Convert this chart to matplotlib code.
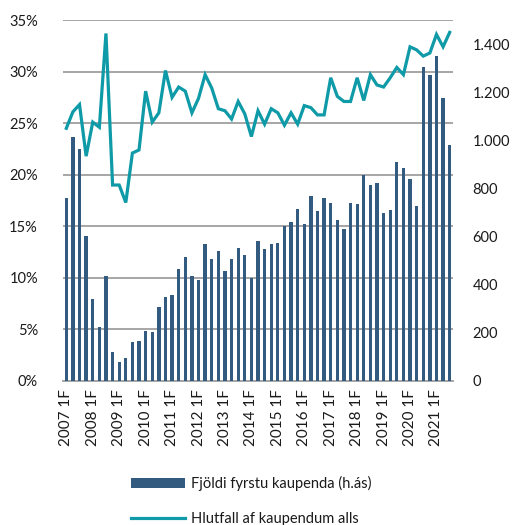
import matplotlib
matplotlib.use("Agg")
import matplotlib.pyplot as plt
from matplotlib.ticker import FuncFormatter, MultipleLocator
from matplotlib.patches import Patch
from matplotlib.lines import Line2D

plt.rcParams['font.family'] = ['Lato', 'DejaVu Sans']

years = list(range(2007, 2022))
quarters = [f"{y} {q}F" for y in years for q in range(1, 5)][:59]
tick_labels = [q if q.endswith(" 1F") else "" for q in quarters]

first_buyers = [759, 1012, 963, 604, 339, 226, 436, 119, 79, 96, 162, 166,
                208, 204, 306, 350, 357, 467, 517, 436, 418, 568, 507, 540,
                456, 507, 551, 522, 427, 583, 548, 568, 572, 645, 661, 713,
                651, 769, 706, 759, 741, 669, 632, 741, 734, 855, 814, 821,
                697, 711, 911, 884, 838, 727, 1303, 1271, 1352, 1174, 981]

share_pct = [24.5, 26.1, 26.8, 21.8, 25.1, 24.6, 33.7, 19.0, 19.0, 17.3, 22.1, 22.4,
             28.1, 25.1, 26.0, 30.1, 27.5, 28.5, 28.1, 26.0, 27.4, 29.7, 28.4, 26.4,
             26.2, 25.4, 27.1, 25.9, 23.7, 26.2, 24.9, 26.4, 26.0, 24.8, 26.0, 24.9,
             26.7, 26.5, 25.8, 25.8, 29.4, 27.6, 27.1, 27.1, 29.4, 27.2, 29.7, 28.7,
             28.5, 29.4, 30.4, 29.7, 32.4, 32.1, 31.5, 31.8, 33.6, 32.4, 33.8]

bar_label = "Fjöldi fyrstu kaupenda (h.ás)"
line_label = "Hlutfall af kaupendum alls"

bar_color = "#335b7f"
line_color = "#0e9aa7"
grid_color = "#a6a6a6"
fs = 10.5

W, H = 514, 525
fig = plt.figure(figsize=(W / 100, H / 100), dpi=100)
left, right, top, bottom = 63, 453, 20, 381
ax = fig.add_axes([left / W, 1 - bottom / H, (right - left) / W, (bottom - top) / H])

x = list(range(len(quarters)))

# left axis: percentages + grid
ax.set_ylim(0, 35)
ax.yaxis.set_major_locator(MultipleLocator(5))
ax.yaxis.set_major_formatter(FuncFormatter(lambda v, p: f"{int(round(v))}%"))
ax.grid(axis='y', color=grid_color, linewidth=1.4)
ax.set_axisbelow(True)
ax.set_xlim(-0.5, len(quarters) - 0.5)
ax.set_xticks(x)
ax.set_xticklabels(tick_labels, rotation=90, fontsize=fs + 0.5, color="#1a1a1a")
ax.tick_params(axis='y', length=0, labelsize=fs, colors="#1a1a1a", pad=18)
ax.tick_params(axis='x', length=0, colors="#1a1a1a", pad=6)
for s in ['top', 'left', 'right']:
    ax.spines[s].set_visible(False)
ax.spines['bottom'].set_color(grid_color)
ax.spines['bottom'].set_linewidth(1.4)

# right axis: bars
ax2 = ax.twinx()
ax2.bar(x, first_buyers, width=0.5, color=bar_color, zorder=2)
ax2.set_ylim(0, 1500)
ax2.set_yticks(range(0, 1401, 200))
ax2.yaxis.set_major_formatter(FuncFormatter(lambda v, p: f"{int(v):,}".replace(",", ".")))
ax2.tick_params(axis='y', length=0, labelsize=fs, colors="#1a1a1a", pad=14)
for s in ['top', 'left', 'right', 'bottom']:
    ax2.spines[s].set_visible(False)

# line on top, left scale
ax3 = ax.twinx()
ax3.plot(x, share_pct, color=line_color, linewidth=2.3, solid_joinstyle='miter')
ax3.set_ylim(0, 35)
ax3.set_yticks([])
for s in ['top', 'left', 'right', 'bottom']:
    ax3.spines[s].set_visible(False)

handles = [Patch(facecolor=bar_color, edgecolor='none'),
           Line2D([0], [0], color=line_color, linewidth=2.3)]
fig.legend(handles, [bar_label, line_label], loc='upper left',
           bbox_to_anchor=(118 / W, 1 - 463 / H), frameon=False, fontsize=fs,
           handlelength=3.7, handleheight=0.75, handletextpad=0.4, labelspacing=1.45,
           labelcolor="#1a1a1a")

fig.savefig("out.png", dpi=100)
